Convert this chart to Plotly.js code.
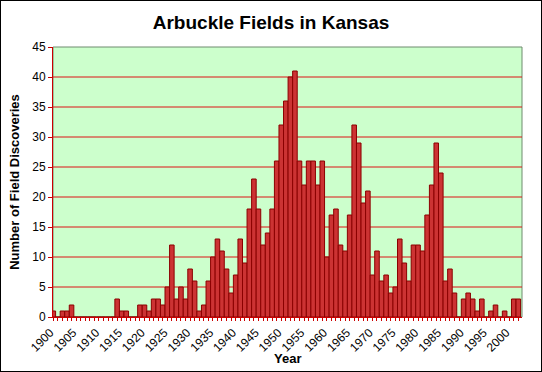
<!DOCTYPE html>
<html>
<head>
<meta charset="utf-8">
<script src="https://cdn.plot.ly/plotly-3.0.1.min.js"></script>
<style>
  html, body { margin: 0; padding: 0; background: #fff; }
  #frame { position: absolute; left: 0; top: 0; width: 540px; height: 370px; border: 1px solid #000; }
  #chart { width: 540px; height: 370px; }
</style>
</head>
<body>
<div id="frame"><div id="chart"></div></div>
<script>
const years = [
  1900,1901,1902,1903,1904,1905,1906,1907,1908,1909,
  1910,1911,1912,1913,1914,1915,1916,1917,1918,1919,
  1920,1921,1922,1923,1924,1925,1926,1927,1928,1929,
  1930,1931,1932,1933,1934,1935,1936,1937,1938,1939,
  1940,1941,1942,1943,1944,1945,1946,1947,1948,1949,
  1950,1951,1952,1953,1954,1955,1956,1957,1958,1959,
  1960,1961,1962,1963,1964,1965,1966,1967,1968,1969,
  1970,1971,1972,1973,1974,1975,1976,1977,1978,1979,
  1980,1981,1982,1983,1984,1985,1986,1987,1988,1989,
  1990,1991,1992,1993,1994,1995,1996,1997,1998,1999,
  2000,2001,2002
];
const discoveries = [
  1,0,1,1,2,0,0,0,0,0,
  0,0,0,0,3,1,1,0,0,2,
  2,1,3,3,2,5,12,3,5,3,
  8,6,1,2,6,10,13,11,8,4,
  7,13,9,18,23,18,12,14,18,26,
  32,36,40,41,26,22,26,26,22,26,
  10,17,18,12,11,17,32,29,19,21,
  7,11,6,7,4,5,13,9,6,12,
  12,11,17,22,29,24,6,8,4,0,
  3,4,3,1,3,0,1,2,0,1,
  0,3,3
];
const yTicks = [0,5,10,15,20,25,30,35,40,45];

const axisRed = '#CC0000';
const font = 'Arial, "Liberation Sans", Helvetica, sans-serif';

const trace = {
  type: 'bar',
  x: years,
  y: discoveries,
  marker: { color: '#CC3333', line: { color: '#8B0000', width: 1 } },
  hoverinfo: 'x+y'
};

const gridShapes = yTicks.filter(v => v > 0 && v < 45).map(v => ({
  type: 'line', xref: 'paper', yref: 'y', x0: 0, x1: 1, y0: v, y1: v,
  line: { color: 'rgb(220,20,20)', width: 1 }, layer: 'below'
}));

const layout = {
  width: 540, height: 370,
  margin: { l: 52, r: 19, t: 46, b: 54 },
  paper_bgcolor: '#ffffff',
  plot_bgcolor: '#CCFFCC',
  bargap: 0,
  showlegend: false,
  font: { family: font, size: 12, color: '#000' },
  title: {
    text: '<b>Arbuckle Fields in Kansas</b>',
    font: { family: font, size: 19, color: '#000' },
    x: 0.5, xanchor: 'center',
    y: 1 - 21/370, yref: 'container', yanchor: 'middle'
  },
  xaxis: {
    range: [1899.93, 2002.81],
    tickmode: 'linear', tick0: 1900, dtick: 5,
    tickangle: -45,
    ticklabelshift: -3,
    ticks: 'outside', ticklen: 3, tickcolor: axisRed, tickwidth: 1,
    minor: { dtick: 1, tick0: 1900, ticks: 'outside', ticklen: 3, tickcolor: axisRed, tickwidth: 1, showgrid: false },
    showline: true, linecolor: axisRed, linewidth: 1,
    showgrid: false, zeroline: false,
    tickfont: { family: font, size: 12, color: '#000' },
    automargin: false, fixedrange: true
  },
  yaxis: {
    range: [0, 45],
    tickmode: 'array', tickvals: yTicks, ticktext: yTicks.map(String),
    ticks: 'outside', ticklen: 4, tickcolor: axisRed, tickwidth: 1,
    showline: true, linecolor: axisRed, linewidth: 1,
    showgrid: false,
    zeroline: false,
    tickfont: { family: font, size: 12, color: '#000' },
    title: { text: '<b>Number of Field Discoveries</b>', font: { family: font, size: 13, color: '#000' }, standoff: 9 },
    automargin: false, fixedrange: true
  },
  annotations: [
    { text: '<b>Year</b>', xref: 'paper', yref: 'paper', x: 0.5, y: -41/270,
      xanchor: 'center', yanchor: 'middle', showarrow: false,
      font: { family: font, size: 13, color: '#000' } }
  ],
  shapes: [
    { type: 'rect', xref: 'paper', yref: 'paper', x0: 0, x1: 1, y0: 0, y1: 1,
      line: { color: '#6E8B6E', width: 1 }, layer: 'below' }
  ].concat(gridShapes)
};

Plotly.newPlot('chart', [trace], layout, { staticPlot: true, displayModeBar: false });
</script>
</body>
</html>
